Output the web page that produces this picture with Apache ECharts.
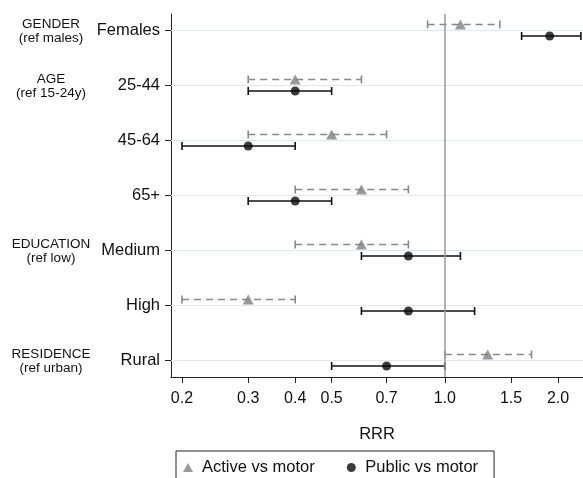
<!DOCTYPE html>
<html><head><meta charset="utf-8">
<script src="https://cdn.jsdelivr.net/npm/echarts@6/dist/echarts.min.js"></script>
<style>html,body{margin:0;padding:0;background:#fff}#c{width:583px;height:478px}</style>
</head><body><div id="c"></div>
<script>
const categories = ['Females','25-44','45-64','65+','Medium','High','Rural'];
const groupLabels = [[0,'GENDER\n(ref males)'],[1,'AGE\n(ref 15-24y)'],[4,'EDUCATION\n(ref low)'],[6,'RESIDENCE\n(ref urban)']];
const xTicks = [0.2,0.3,0.4,0.5,0.7,1.0,1.5,2.0];
const activeRRR  = [1.1,0.4,0.5,0.6,0.6,0.3,1.3];
const activeLow  = [0.9,0.3,0.3,0.4,0.4,0.2,1.0];
const activeHigh = [1.4,0.6,0.7,0.8,0.8,0.4,1.7];
const publicRRR  = [1.9,0.4,0.3,0.4,0.8,0.8,0.7];
const publicLow  = [1.6,0.3,0.2,0.3,0.6,0.6,0.5];
const publicHigh = [2.3,0.5,0.4,0.5,1.1,1.2,1.0];

const offA = -0.11, offP = 0.10;
const FONT = 'Liberation Sans, Arial, sans-serif';
const chart = echarts.init(document.getElementById('c'));

function barRenderer(off, color, dash){
  return function(params, api){
    const y = api.value(2) + off;
    const a = api.coord([api.value(0), y]);
    const b = api.coord([api.value(1), y]);
    const h = 4;
    return {type:'group', children:[
      {type:'line', shape:{x1:a[0],y1:a[1],x2:b[0],y2:b[1]}, style:{stroke:color,lineWidth:1.6,lineDash:dash}},
      {type:'line', shape:{x1:a[0],y1:a[1]-h,x2:a[0],y2:a[1]+h}, style:{stroke:color,lineWidth:1.6}},
      {type:'line', shape:{x1:b[0],y1:b[1]-h,x2:b[0],y2:b[1]+h}, style:{stroke:color,lineWidth:1.6}}
    ]};
  };
}

chart.setOption({
  animation:false,
  textStyle:{fontFamily:FONT},
  grid:{left:171, right:0, top:14, bottom:101},
  legend:{
    data:[{name:'Active vs motor', icon:'triangle'},{name:'Public vs motor', icon:'circle'}],
    left:176, top:451, padding:[8,16,8,7], itemGap:32, itemWidth:10, itemHeight:9,
    borderColor:'#222', borderWidth:1,
    textStyle:{fontFamily:FONT, fontSize:16.5, color:'#111', padding:[0,0,0,4]}
  },
  xAxis:{
    type:'log', min:0.187, max:2.33,
    name:'RRR', nameLocation:'middle', nameGap:49,
    nameTextStyle:{fontFamily:FONT, fontSize:16.5, color:'#111'},
    axisLine:{show:true, onZero:false, lineStyle:{color:'#222', width:1}},
    axisTick:{show:true, length:6, lineStyle:{color:'#222'}, customValues:xTicks},
    axisLabel:{customValues:xTicks, margin:14, fontFamily:FONT, fontSize:16, color:'#111',
      formatter:v=>Number(v).toFixed(1)},
    splitLine:{show:false}, minorTick:{show:false}
  },
  yAxis:{
    type:'value', inverse:true, min:-0.3, max:6.3,
    axisLine:{show:true, onZero:false, lineStyle:{color:'#222', width:1}},
    axisTick:{show:true, length:6, lineStyle:{color:'#222'}, customValues:categories.map((c,i)=>i)},
    axisLabel:{customValues:categories.map((c,i)=>i), margin:11, fontFamily:FONT, fontSize:16.5, color:'#111',
      formatter:v=>categories[Math.round(v)]},
    splitLine:{show:false}
  },
  series:[
    {type:'custom', name:'activeBars', renderItem:barRenderer(offA,'#888',[7,5]),
      data:categories.map((c,i)=>[activeLow[i],activeHigh[i],i]), encode:{x:[0,1],y:2}, z:3, silent:true,
      markLine:{silent:true, symbol:'none', label:{show:false}, animation:false,
        data:categories.map((c,i)=>({yAxis:i, lineStyle:{color:'#dfeaef', width:1, type:'solid'}}))
          .concat([{xAxis:1, lineStyle:{color:'#9a9a9a', width:1.5, type:'solid'}}])}},
    {type:'custom', name:'publicBars', renderItem:barRenderer(offP,'#111',null),
      data:categories.map((c,i)=>[publicLow[i],publicHigh[i],i]), encode:{x:[0,1],y:2}, z:3, silent:true},
    {type:'scatter', name:'Active vs motor', symbol:'triangle', symbolSize:[11,10], itemStyle:{color:'#808080'},
      data:categories.map((c,i)=>[activeRRR[i], i+offA]), z:5},
    {type:'scatter', name:'Public vs motor', symbol:'circle', symbolSize:9, itemStyle:{color:'#0a0a0a'},
      data:categories.map((c,i)=>[publicRRR[i], i+offP]), z:5}
  ]
});

chart.setOption({
  graphic: groupLabels.map(([i,t])=>({
    type:'text', x:51, y:chart.convertToPixel({yAxisIndex:0}, i) + 1,
    style:{text:t, fill:'#111', font:'13.5px '+FONT, align:'center', verticalAlign:'middle', lineHeight:14.5}
  }))
});
</script>
</body></html>
